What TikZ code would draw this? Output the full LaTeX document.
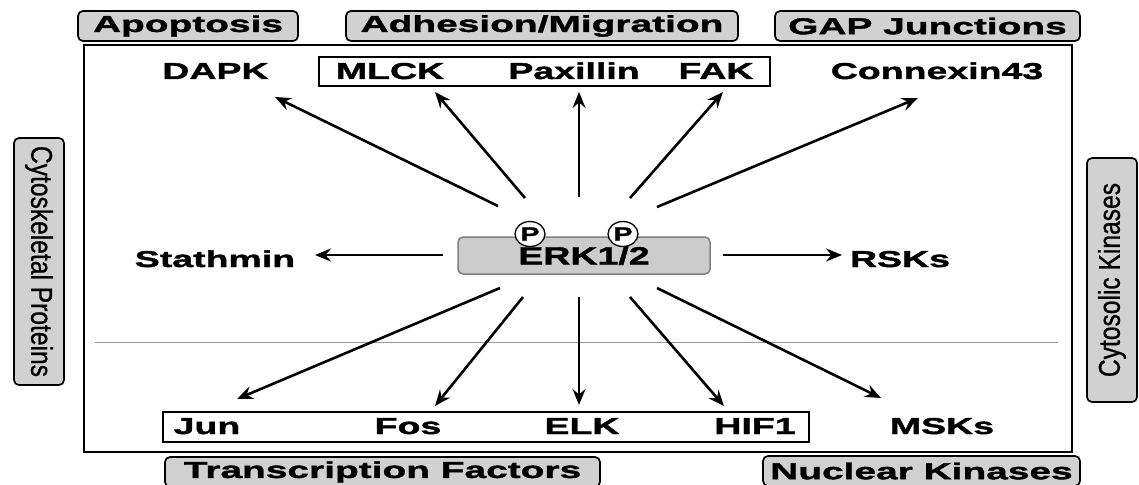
\documentclass[tikz,border=0pt]{standalone}
\usepackage{fontspec}
\setmainfont{Liberation Sans}
\newfontfamily\protfont[UprightFont=* Bold, FakeStretch=1.63, FakeBold=1.6]{Liberation Sans}
\newfontfamily\grpfont[UprightFont=* Bold, FakeStretch=1.69, FakeBold=1.6]{Liberation Sans}
\newfontfamily\erkfont[UprightFont=* Bold, FakeStretch=1.5, FakeBold=1.6]{Liberation Sans}
\newfontfamily\sidefont[FakeStretch=0.82, FakeBold=0.8]{Liberation Sans}
\usetikzlibrary{arrows.meta,shapes.geometric}

\tikzset{
  prot/.style={font=\protfont\fontsize{23}{23}\selectfont, inner sep=0pt, anchor=base},
  grp/.style={draw, line width=1.7pt, rounded corners=5pt, fill=black!18, inner sep=0pt,
    minimum height=30pt, font=\grpfont\fontsize{23}{23}\selectfont},
  side/.style={draw, line width=1.7pt, rounded corners=5pt, fill=black!18, inner sep=0pt,
    minimum height=50pt, font=\sidefont\fontsize{30}{30}\selectfont},
  rowbox/.style={draw, line width=1.7pt, inner sep=0pt},
  phos/.style={ellipse, draw, line width=1.3pt, fill=white, minimum width=30pt,
    minimum height=25pt, inner sep=0pt, font=\erkfont\fontsize{19}{19}\selectfont},
  arr/.style={-{Stealth[length=16pt,width=13pt,inset=5.5pt]}, line width=2.6pt},
}

\begin{document}
\begin{tikzpicture}[x=1pt,y=-1pt]
    \useasboundingbox (0,0) rectangle (1139,484);

    % Outer frame and divider
    \draw[line width=2.8pt] (84,45) rectangle (1072,452);
    \draw[black!40, line width=0.8pt] (95,342) -- (1058,342);

    % Group labels
    \node[grp, minimum width=220pt] (apop) at (188,26) {Apoptosis};
    \node[grp, minimum width=392pt] (adhesion) at (542,26) {Adhesion/Migration};
    \node[grp, minimum width=305pt] (gap) at (927.5,26) {GAP Junctions};
    \node[grp, minimum width=435pt] (transcr) at (382.5,472) {Transcription Factors};
    \node[grp, minimum width=317pt] (nuclear) at (921.5,471) {Nuclear Kinases};
    \node[side, minimum width=247pt, rotate=-90] (cytoskel) at (39,261.5) {Cytoskeletal Proteins};
    \node[side, minimum width=244pt, rotate=90] (cytosol) at (1112,280) {Cytosolic Kinases};

    % Boxes round the rows
    \node[rowbox, minimum width=451pt, minimum height=29pt] (adhrow) at (544.5,71.5) {};
    \node[rowbox, minimum width=646pt, minimum height=30pt] (tfrow) at (486,427) {};

    % ERK1/2 with its two phosphates
    \node[draw=black!50, line width=1.5pt, fill=black!20, rounded corners=5pt,
      minimum width=252pt, minimum height=37pt, inner sep=0pt, text height=18pt, text depth=0pt,
      font=\erkfont\fontsize{25}{25}\selectfont] (erk) at (584,255.5) {ERK1/2};
    \node[phos] (p1) at (530,234) {P};
    \node[phos] (p2) at (623,234) {P};

    % Targets
    \node[prot] (dapk) at (215.5,79) {DAPK};
    \node[prot] (mlck) at (390,79) {MLCK};
    \node[prot] (paxillin) at (574,79) {Paxillin};
    \node[prot] (fak) at (716,79) {FAK};
    \node[prot] (cx43) at (937,79) {Connexin43};
    \node[prot] (stathmin) at (215,267) {Stathmin};
    \node[prot] (rsk) at (900,267) {RSKs};
    \node[prot] (jun) at (207,434) {Jun};
    \node[prot] (fos) at (408,434) {Fos};
    \node[prot] (elk) at (582,434) {ELK};
    \node[prot] (hif) at (755,434) {HIF1};
    \node[prot] (msk) at (942,434) {MSKs};

    % Arrow ends
    \coordinate (dapk-s) at (498,206);  \coordinate (dapk-t) at (275,97);
    \coordinate (mlck-s) at (525,198);  \coordinate (mlck-t) at (435,92);
    \coordinate (pax-s) at (579,197);   \coordinate (pax-t) at (579,92);
    \coordinate (fak-s) at (630,198);   \coordinate (fak-t) at (723,92);
    \coordinate (cx-s) at (657,207);    \coordinate (cx-t) at (918,98);
    \coordinate (stat-s) at (443,255);  \coordinate (stat-t) at (315,255);
    \coordinate (rsk-s) at (723,255);   \coordinate (rsk-t) at (842,255);
    \coordinate (jun-s) at (500,288);   \coordinate (jun-t) at (237,399);
    \coordinate (fos-s) at (523,297);   \coordinate (fos-t) at (435,406);
    \coordinate (elk-s) at (579,297);   \coordinate (elk-t) at (579,405);
    \coordinate (hif-s) at (630,297);   \coordinate (hif-t) at (724,406);
    \coordinate (msk-s) at (657,288);   \coordinate (msk-t) at (881,398);

    % Arrows out of ERK1/2
    \draw[arr] (dapk-s) -- (dapk-t);
    \draw[arr] (mlck-s) -- (mlck-t);
    \draw[arr] (pax-s) -- (pax-t);
    \draw[arr] (fak-s) -- (fak-t);
    \draw[arr] (cx-s) -- (cx-t);
    \draw[arr] (stat-s) -- (stat-t);
    \draw[arr] (rsk-s) -- (rsk-t);
    \draw[arr] (jun-s) -- (jun-t);
    \draw[arr] (fos-s) -- (fos-t);
    \draw[arr] (elk-s) -- (elk-t);
    \draw[arr] (hif-s) -- (hif-t);
    \draw[arr] (msk-s) -- (msk-t);
\end{tikzpicture}
\end{document}
